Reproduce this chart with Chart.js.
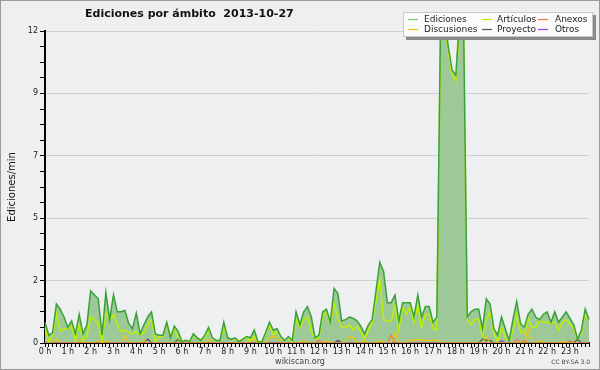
<!DOCTYPE html>
<html>
<head>
<meta charset="utf-8">
<script src="https://cdn.jsdelivr.net/npm/chart.js@4/dist/chart.umd.min.js"></script>
<style>
  html, body { margin: 0; padding: 0; background: #eeeff1; }
</style>
</head>
<body>
<canvas id="graph-canvas" width="600" height="370"></canvas>
<script>
// one value per 10 minutes, edits per minute
const hours = ['0 h','1 h','2 h','3 h','4 h','5 h','6 h','7 h','8 h','9 h','10 h','11 h',
  '12 h','13 h','14 h','15 h','16 h','17 h','18 h','19 h','20 h','21 h','22 h','23 h'];
const yLabels = ['0', '2', '5', '7', '9', '12'];

const ediciones = [
  0.8,0.3,0.4,1.5,1.3,1.0,0.6,0.85,0.35,1.1,0.35,0.7,
  2.0,1.85,1.7,0.3,1.95,0.9,1.85,1.2,1.2,1.25,0.75,0.55,
  1.15,0.35,0.7,1.0,1.2,0.35,0.3,0.3,0.8,0.2,0.65,0.45,
  0.05,0.1,0.05,0.35,0.2,0.1,0.3,0.6,0.2,0.1,0.1,0.8,
  0.2,0.15,0.2,0.05,0.15,0.25,0.2,0.5,0.05,0.05,0.4,0.8,
  0.5,0.55,0.25,0.1,0.25,0.1,1.2,0.7,1.2,1.4,1.0,0.2,
  0.3,1.2,1.3,0.8,2.1,1.9,0.85,0.9,1.0,0.95,0.85,0.65,
  0.35,0.7,0.9,2.0,3.1,2.75,1.55,1.55,1.85,0.85,1.55,1.55,
  1.55,1.0,1.85,1.0,1.4,1.4,0.8,1.0,12.6,12.6,11.4,10.5,
  10.3,12.6,12.6,1.0,1.2,1.3,1.3,0.55,1.7,1.5,0.55,0.3,
  1.0,0.55,0.1,0.9,1.6,0.75,0.6,1.1,1.3,1.0,0.9,1.1,
  1.2,0.8,1.2,0.8,1.0,1.2,0.95,0.7,0.15,0.5,1.3,0.9
];
const articulos = [
  0.6,0.05,0.25,1.15,0.45,0.55,0.55,0.65,0.1,0.7,0.1,0.25,
  1.0,0.9,0.75,0.1,1.15,0.9,1.1,0.7,0.45,0.5,0.4,0.35,
  0.45,0.3,0.4,0.7,0.9,0.05,0.25,0.25,0.75,0.2,0.5,0.2,
  0.05,0.1,0.05,0.3,0.2,0.1,0.2,0.5,0.15,0.1,0.1,0.6,
  0.2,0.15,0.15,0.05,0.15,0.2,0.1,0.25,0.05,0.05,0.35,0.7,
  0.3,0.45,0.2,0.1,0.2,0.05,0.9,0.6,0.9,1.0,0.45,0.15,
  0.2,1.05,1.15,0.75,1.5,0.9,0.6,0.6,0.7,0.5,0.65,0.45,
  0.15,0.5,0.8,1.6,2.45,0.9,0.85,0.85,1.45,0.5,1.4,1.1,
  1.4,0.8,1.45,0.6,1.1,1.1,0.55,0.5,12.4,12.4,11.2,10.3,
  10.1,12.4,12.4,0.9,0.7,0.9,0.9,0.3,0.9,1.2,0.35,0.05,
  0.6,0.2,0.1,0.45,1.1,0.4,0.4,0.95,0.6,0.6,0.85,0.8,
  0.8,0.75,0.8,0.5,0.8,0.9,0.75,0.55,0.15,0.4,1.1,0.9
];
const anexos = [
  0,0,0,0,0,0,0,0,0,0,0,0,
  0,0,0,0,0,0,0,0,0,0,0,0,
  0,0,0,0,0,0,0,0,0,0,0,0,
  0,0,0,0,0,0,0,0,0,0,0,0,
  0,0,0,0,0,0,0,0,0,0,0,0,
  0,0,0,0,0,0,0,0,0,0,0,0,
  0.1,0,0,0,0,0,0,0,0,0,0,0,
  0,0,0,0,0,0,0,0.3,0,0,0,0,
  0,0,0,0,0,0,0,0,0,0,0,0,
  0,0,0,0,0,0,0,0,0,0,0,0,
  0,0,0,0,0.15,0,0.1,0,0,0,0,0,
  0,0,0,0,0,0,0.1,0,0,0,0,0
];
const discusiones = [
  0,0,0,0.15,0,0,0,0,0,0.1,0,0,
  0,0,0.1,0,0.1,0,0,0,0,0.3,0,0,
  0,0,0.1,0,0,0,0,0,0,0,0,0,
  0,0,0,0,0,0,0,0.1,0,0,0,0,
  0,0,0,0,0,0,0.1,0.15,0,0,0,0.2,
  0.25,0.2,0,0,0,0,0,0,0.1,0,0,0,
  0,0,0.1,0,0,0,0,0,0.25,0.2,0,0,
  0.1,0,0,0,0.1,0,0,0,0.4,0,0,0,
  0.1,0.1,0.15,0.1,0.1,0.1,0.1,0.1,0,0,0,0,
  0,0,0,0,0,0,0,0,0.25,0,0,0,
  0,0,0,0,0,0,0,0.55,0,0,0.1,0,
  0,0,0,0,0.05,0,0,0,0,0,0,0
];
const proyecto = [
  0,0,0,0,0,0,0,0,0,0,0,0,
  0,0,0,0,0,0,0,0,0,0,0,0,
  0,0,0,0.15,0,0,0,0,0,0,0,0.15,
  0,0,0,0,0,0,0,0,0,0,0,0,
  0,0,0,0,0,0,0,0,0,0,0,0,
  0,0,0,0,0,0,0,0,0,0,0,0,
  0,0,0,0,0,0.1,0,0,0,0,0,0,
  0,0,0,0,0,0,0,0,0,0,0,0,
  0,0,0,0,0,0,0,0,0,0,0,0,
  0,0,0,0,0,0,0,0.15,0.1,0.1,0,0,
  0,0,0,0,0,0,0,0,0,0,0,0,
  0,0,0,0,0,0,0,0,0.15,0,0,0
];
const otros = [
  0,0,0,0,0,0,0,0,0,0,0,0,
  0,0,0,0,0,0,0,0,0,0,0,0,
  0,0,0,0,0,0,0,0,0,0,0,0,
  0,0,0,0,0,0,0,0,0,0,0,0,
  0,0,0,0,0,0,0,0,0,0,0,0,
  0,0,0,0,0,0,0,0,0,0,0,0,
  0,0,0,0,0,0.1,0,0,0,0,0,0,
  0,0,0,0,0,0,0,0,0,0,0,0,
  0,0,0,0,0,0,0,0,0,0,0,0,
  0,0,0,0,0,0,0,0,0,0,0,0,
  0.1,0,0,0,0,0,0,0,0,0,0,0,
  0,0,0,0,0,0,0,0,0,0,0,0
];

// 10-minute slots, labelled only on the hour
let slots = [];
for (let i = 0; i < ediciones.length; i++) {
  slots.push(hours[Math.floor(i / 6)] + ' ' + (i % 6) * 10);
}

const font = 'DejaVu Sans';

function line(label, data, color, width) {
  return {
    label: label,
    data: data,
    borderColor: color,
    backgroundColor: color,
    borderWidth: width,
    pointRadius: 0,
    tension: 0,
    fill: false
  };
}

let chartdata = {
  labels: slots,
  datasets: [
    {
      label: 'Ediciones',
      data: ediciones,
      borderColor: '#38a238',
      backgroundColor: '#9dc998',
      borderWidth: 1.5,
      pointRadius: 0,
      tension: 0,
      fill: 'origin'
    },
    line('Artículos', articulos, '#bdf000', 1.5),
    line('Anexos', anexos, '#f57a35', 1.2),
    line('Discusiones', discusiones, '#f5c400', 1.2),
    line('Proyecto', proyecto, '#555555', 1.2),
    line('Otros', otros, '#9a3cf0', 1.2)
  ]
};

// background, frame, title, legend and footer texts
const decor = {
  id: 'decor',
  beforeDraw(chart) {
    const ctx = chart.ctx;
    ctx.save();
    ctx.fillStyle = '#eeeff1';
    ctx.fillRect(0, 0, chart.width, chart.height);
    ctx.restore();
  },
  afterDraw(chart) {
    const ctx = chart.ctx;
    ctx.save();
    // title
    ctx.fillStyle = '#111';
    ctx.font = 'bold 11px "' + font + '"';
    ctx.textBaseline = 'middle';
    ctx.textAlign = 'left';
    ctx.fillText('Ediciones por ámbito  2013-10-27', 85, 14);

    // legend box
    ctx.fillStyle = '#8a8a8a';
    ctx.fillRect(406, 15, 190, 25);
    ctx.fillStyle = '#fbfbfb';
    ctx.fillRect(403, 12, 190, 25);
    ctx.strokeStyle = '#c8c8c8';
    ctx.lineWidth = 1;
    ctx.strokeRect(403.5, 12.5, 189, 24);
    const colX = [408, 482, 538];
    const textX = [424, 497, 555];
    const rowY = [19.5, 29.5];
    ctx.font = '9px "' + font + '"';
    chart.data.datasets.forEach((ds, i) => {
      const c = i % 3, r = Math.floor(i / 3);
      ctx.strokeStyle = i === 0 ? '#78c878' : ds.borderColor;
      ctx.lineWidth = 1.2;
      ctx.beginPath();
      ctx.moveTo(colX[c], rowY[r]);
      ctx.lineTo(colX[c] + 10, rowY[r]);
      ctx.stroke();
      ctx.fillStyle = '#222';
      ctx.fillText(ds.label, textX[c], rowY[r] + 0.5);
    });

    // footer
    ctx.fillStyle = '#444';
    ctx.font = '8px "' + font + '"';
    ctx.textAlign = 'center';
    ctx.fillText('wikiscan.org', 300, 362);
    ctx.font = '6px "' + font + '"';
    ctx.textAlign = 'right';
    ctx.fillText('CC BY-SA 3.0', 590, 362);

    // outer frame
    ctx.strokeStyle = '#9a9a9a';
    ctx.lineWidth = 1;
    ctx.strokeRect(0.5, 0.5, chart.width - 1, chart.height - 1);
    ctx.restore();
  }
};

let graphTarget = document.getElementById('graph-canvas');
let lineGraph = new Chart(graphTarget, {
  type: 'line',
  data: chartdata,
  plugins: [decor],
  options: {
    responsive: false,
    animation: false,
    events: [],
    layout: { padding: { top: 31, right: 11, left: 0, bottom: 0 } },
    plugins: {
      legend: { display: false },
      title: { display: false },
      tooltip: { enabled: false },
      filler: { drawTime: 'beforeDatasetsDraw' }
    },
    scales: {
      x: {
        type: 'category',
        offset: false,
        grid: { drawOnChartArea: false, tickLength: 4, tickColor: '#000', tickWidth: 1 },
        border: { color: '#000', width: 2 },
        ticks: {
          autoSkip: false,
          maxRotation: 0,
          minRotation: 0,
          padding: 0,
          color: '#222',
          font: { family: font, size: 8 },
          callback: function (value, index) {
            return index % 6 === 0 ? hours[index / 6] : '';
          }
        },
        afterFit: function (scale) { scale.height = 27; }
      },
      y: {
        min: 0,
        max: 12,
        grid: {
          color: function (c) { return c.index % 4 === 0 ? '#cfcfcf' : 'rgba(0,0,0,0)'; },
          tickColor: '#000',
          tickLength: 5
        },
        border: { color: '#000', width: 2 },
        ticks: {
          count: 21,
          padding: 2,
          color: '#222',
          font: { family: font, size: 8 },
          callback: function (value, index) {
            return index % 4 === 0 ? yLabels[index / 4] : '';
          }
        },
        title: {
          display: true,
          text: 'Ediciones/min',
          color: '#111',
          font: { family: font, size: 10 },
          padding: { top: 6, bottom: 0 }
        },
        afterFit: function (scale) { scale.width = 45; }
      }
    }
  }
});
</script>
</body>
</html>
